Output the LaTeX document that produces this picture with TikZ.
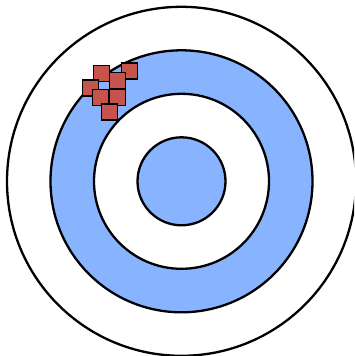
\documentclass[tikz,border=0pt]{standalone}
\definecolor{ringblue}{RGB}{136,180,255}
\definecolor{hitred}{RGB}{198,84,76}
\begin{document}
\begin{tikzpicture}[x=1pt,y=-1pt,
  ring/.style={draw=black,line width=2.3pt},
  hit/.style={draw=black,fill=hitred,line width=1.3pt,minimum size=16pt,inner sep=0pt,outer sep=0pt}]
\useasboundingbox (0,0) rectangle (354,356);
\clip (0,0) rectangle (354,356);
\coordinate (c) at (181.5,181.3);
\draw[ring,fill=white] (c) circle[radius=174.5];
\draw[ring,fill=ringblue] (c) circle[radius=131];
\draw[ring,fill=white] (c) circle[radius=87.5];
\draw[ring,fill=ringblue] (c) circle[radius=44];
\node[hit] (a) at (101.2,73.8) {};
\node[hit] (b) at (129.3,71) {};
\node[hit] (d) at (90.5,88) {};
\node[hit] (cc) at (117.2,80.8) {};
\node[hit] (e) at (100.2,97.8) {};
\node[hit] (f) at (117.2,97.8) {};
\node[hit] (g) at (109.8,112) {};
\end{tikzpicture}
\end{document}
